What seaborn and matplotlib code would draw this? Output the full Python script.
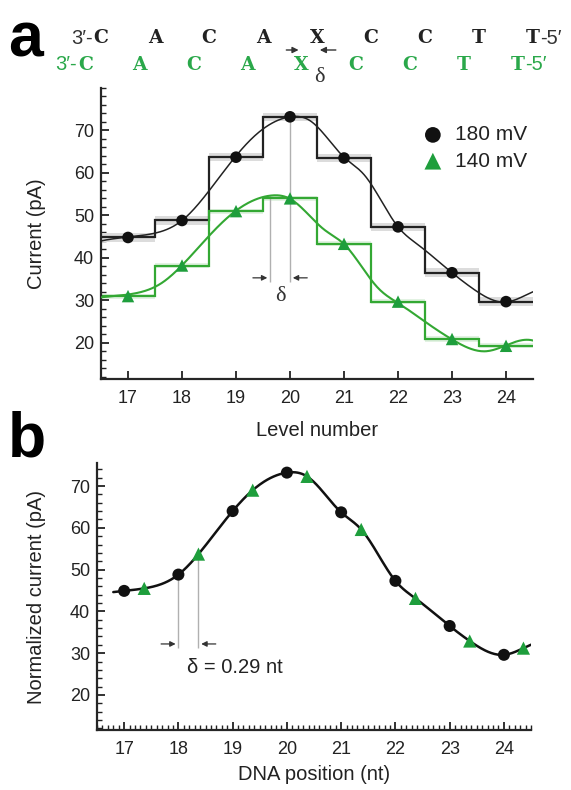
import numpy as np
import pandas as pd
import matplotlib
matplotlib.use("Agg")
import matplotlib.pyplot as plt
import matplotlib.transforms as mtrans
from matplotlib.ticker import MultipleLocator
import seaborn as sns

# ---------------- data ----------------
levels = [17, 18, 19, 20, 21, 22, 23, 24]
cur_180 = [44.8, 48.8, 63.7, 73.2, 63.5, 47.3, 36.5, 29.7]
cur_140 = [31.0, 38.2, 51.0, 54.0, 43.3, 29.7, 20.9, 19.3]

pos_180 = [17, 18, 19, 20, 21, 22, 23, 24]
norm_180 = [44.9, 48.8, 64.0, 73.2, 63.7, 47.3, 36.5, 29.6]
pos_140 = [17.37, 18.37, 19.37, 20.37, 21.37, 22.37, 23.37, 24.36]
norm_140 = [45.5, 53.7, 69.0, 72.3, 59.6, 43.1, 32.9, 31.2]

yticks = [20, 30, 40, 50, 60, 70]
seq_letters = ["C", "A", "C", "A", "X", "C", "C", "T", "T"]
delta_label = "δ = 0.29 nt"
legend_labels = ["180 mV", "140 mV"]

BLACK = "#111111"
GREEN_PT = "#1e9e3c"
GREEN_LN = "#33a833"
GREEN_TX = "#2aa84a"

# ---------------- helpers ----------------
def natural_spline(x, y, xq):
    x = np.asarray(x, float); y = np.asarray(y, float); xq = np.asarray(xq, float)
    n = len(x); h = np.diff(x)
    A = np.zeros((n, n)); r = np.zeros(n)
    A[0, 0] = 1; A[-1, -1] = 1
    for i in range(1, n - 1):
        A[i, i - 1] = h[i - 1]; A[i, i] = 2 * (h[i - 1] + h[i]); A[i, i + 1] = h[i]
        r[i] = 3 * ((y[i + 1] - y[i]) / h[i] - (y[i] - y[i - 1]) / h[i - 1])
    c = np.linalg.solve(A, r)
    b = (y[1:] - y[:-1]) / h - h * (2 * c[:-1] + c[1:]) / 3
    d = (c[1:] - c[:-1]) / (3 * h)
    idx = np.clip(np.searchsorted(x, xq) - 1, 0, n - 2)
    dx = xq - x[idx]
    return y[idx] + b[idx] * dx + c[idx] * dx ** 2 + d[idx] * dx ** 3

# combined fit through normalized points
px = np.array(pos_180 + pos_140); py = np.array(norm_180 + norm_140)
order = np.argsort(px); px, py = px[order], py[order]
shift = np.mean(np.array(pos_140) - np.array(pos_180))
m, c0 = np.polyfit(cur_140, norm_140, 1)

sns.set_theme(style="ticks")
plt.rcParams["font.family"] = ["Liberation Sans", "DejaVu Sans"]
plt.rcParams["axes.linewidth"] = 1.6

fig = plt.figure(figsize=(5.71, 7.9), dpi=100)
axa = fig.add_axes([0.1769, 0.5203, 0.7566, 0.3684])
axb = fig.add_axes([0.1699, 0.0759, 0.7601, 0.3380])

FS_T = 13
FS_L = 14.5

def style_axis(ax, xminor=None):
    sns.despine(ax=ax)
    ax.set_xlim(16.5, 24.5)
    ax.set_xticks(levels)
    ax.set_yticks(yticks)
    ax.yaxis.set_minor_locator(MultipleLocator(2))
    if xminor:
        ax.xaxis.set_minor_locator(MultipleLocator(xminor))
    ax.tick_params(which="major", direction="in", length=6, width=1.3, labelsize=FS_T, colors="#222222")
    ax.tick_params(axis="x", which="major", pad=8)
    ax.tick_params(axis="y", which="major", pad=5)
    ax.tick_params(which="minor", direction="in", length=3.5, width=1.0, color="#222222")

# ---------------- panel a ----------------
edges = np.append(np.array(levels) - 0.5, levels[-1] + 0.5)
v180 = np.array(cur_180); v140 = np.array(cur_140)
axa.stairs(v180 + 1.0, edges, baseline=v180 - 1.0, fill=True, color="#dcdcdc", zorder=1)
axa.stairs(v140 + 0.6, edges, baseline=v140 - 0.6, fill=True, color="#e2f2e2", zorder=1)
axa.stairs(v180, edges, baseline=None, color="#222222", lw=1.6, zorder=2)
axa.stairs(v140, edges, baseline=None, color=GREEN_LN, lw=1.6, zorder=2)

xa = np.linspace(16.5, 24.5, 400)
fit_a = pd.DataFrame({"x": xa, "y180": natural_spline(px, py, xa),
                      "y140": (natural_spline(px, py, xa + shift) - c0) / m})
sns.lineplot(data=fit_a, x="x", y="y180", ax=axa, color="#222222", lw=1.1, sort=False, zorder=3)
sns.lineplot(data=fit_a, x="x", y="y140", ax=axa, color=GREEN_LN, lw=1.5, sort=False, zorder=3)

pts_a = pd.DataFrame({"lev": levels, "c180": cur_180, "c140": cur_140})
sns.scatterplot(data=pts_a, x="lev", y="c180", ax=axa, color=BLACK, marker="o", s=70,
                edgecolor="none", zorder=5, label=legend_labels[0])
sns.scatterplot(data=pts_a, x="lev", y="c140", ax=axa, color=GREEN_PT, marker="^", s=80,
                edgecolor="none", zorder=5, label=legend_labels[1])

# delta annotation panel a
peak_x = 20 - shift
peak_g = (natural_spline(px, py, [20.0])[0] - c0) / m
axa.vlines([peak_x], 34.4, peak_g, color="#b0b0b0", lw=1.0, zorder=1)
axa.vlines([20], 34.4, cur_180[3], color="#b0b0b0", lw=1.0, zorder=1)
arr = dict(arrowstyle="-|>", color="#333333", lw=0.9, mutation_scale=8)
axa.annotate("", xy=(peak_x, 35.3), xytext=(peak_x - 0.37, 35.3), arrowprops=arr)
axa.annotate("", xy=(20, 35.3), xytext=(20.37, 35.3), arrowprops=arr)
axa.text((peak_x + 20) / 2, 30.8, "δ", ha="center", va="center", fontsize=16,
         family=["Liberation Serif", "DejaVu Serif"], color="#333333")

axa.set_ylim(11.5, 80)
style_axis(axa)
axa.set_xlabel("Level number", fontsize=FS_L, color="#222222")
axa.set_ylabel("Current (pA)", fontsize=FS_L, color="#222222")
axa.xaxis.set_label_coords(0.5, -0.145)
axa.yaxis.set_label_coords(-0.127, 0.5)
leg = axa.legend(loc="upper right", bbox_to_anchor=(1.005, 0.90), frameon=False, fontsize=15,
                 handletextpad=0.05, labelspacing=0.35, markerscale=1.35, borderaxespad=0)
for t in leg.get_texts():
    t.set_color("#222222")

# sequences above panel a
tr = mtrans.blended_transform_factory(axa.transData, fig.transFigure)
ybk, ygr = 1 - 38 / 790, 1 - 65 / 790
slab = ["DejaVu Serif", "Liberation Serif"]
for k, L in enumerate(seq_letters):
    axa.text(16.5 + k, ybk, L, transform=tr, ha="center", va="center", fontsize=13.5,
             family=slab, weight="bold", color="#222222", clip_on=False)
    axa.text(16.5 + k - 0.29, ygr, L, transform=tr, ha="center", va="center", fontsize=13.5,
             family=slab, weight="bold", color=GREEN_TX, clip_on=False)
axa.text(16.5 - 0.16, ybk, "3′-", transform=tr, ha="right", va="center", fontsize=14.5,
         color="#333333", clip_on=False)
axa.text(16.5 - 0.29 - 0.16, ygr, "3′-", transform=tr, ha="right", va="center", fontsize=14.5,
         color=GREEN_TX, clip_on=False)
axa.text(24.5 + 0.14, ybk, "-5′", transform=tr, ha="left", va="center", fontsize=14.5,
         color="#333333", clip_on=False)
axa.text(24.5 - 0.29 + 0.14, ygr, "-5′", transform=tr, ha="left", va="center", fontsize=14.5,
         color=GREEN_TX, clip_on=False)
yar = 1 - 50 / 790
arr2 = dict(arrowstyle="-|>", color="#333333", lw=1.0, mutation_scale=9)
axa.annotate("", xy=(20.5 - 0.29, yar), xytext=(19.88, yar), xycoords=tr, textcoords=tr,
             arrowprops=arr2)
axa.annotate("", xy=(20.5, yar), xytext=(20.9, yar), xycoords=tr, textcoords=tr,
             arrowprops=arr2)
axa.text(20.55, 1 - 77 / 790, "δ", transform=tr, ha="center", va="center", fontsize=16,
         family=["Liberation Serif", "DejaVu Serif"], color="#333333")

# ---------------- panel b ----------------
xb = np.linspace(16.8, 24.5, 400)
fit_b = pd.DataFrame({"x": xb, "y": natural_spline(px, py, xb)})
sns.lineplot(data=fit_b, x="x", y="y", ax=axb, color="#111111", lw=1.8, sort=False, zorder=3)
pb180 = pd.DataFrame({"x": pos_180, "y": norm_180})
pb140 = pd.DataFrame({"x": pos_140, "y": norm_140})
sns.scatterplot(data=pb180, x="x", y="y", ax=axb, color=BLACK, marker="o", s=75,
                edgecolor="none", zorder=5)
sns.scatterplot(data=pb140, x="x", y="y", ax=axb, color=GREEN_PT, marker="^", s=90,
                edgecolor="none", zorder=5)

axb.vlines([pos_180[1]], 31.2, norm_180[1], color="#b0b0b0", lw=1.0, zorder=1)
axb.vlines([pos_140[1]], 31.2, norm_140[1], color="#b0b0b0", lw=1.0, zorder=1)
axb.annotate("", xy=(pos_180[1], 32.2), xytext=(pos_180[1] - 0.37, 32.2), arrowprops=arr)
axb.annotate("", xy=(pos_140[1], 32.2), xytext=(pos_140[1] + 0.37, 32.2), arrowprops=arr)
axb.text(18.15, 26.5, delta_label, ha="left", va="center", fontsize=FS_L, color="#222222")

axb.set_ylim(11.6, 75.5)
style_axis(axb, xminor=0.1)
axb.set_xlabel("DNA position (nt)", fontsize=FS_L, color="#222222")
axb.set_ylabel("Normalized current (pA)", fontsize=FS_L, color="#222222")
axb.xaxis.set_label_coords(0.5, -0.13)
axb.yaxis.set_label_coords(-0.118, 0.5)

fig.text(0.014, 1 - 40 / 790, "a", fontsize=45, weight="bold", va="center", ha="left", color="black")
fig.text(0.014, 1 - 440 / 790, "b", fontsize=45, weight="bold", va="center", ha="left", color="black")

fig.savefig("out.png", dpi=100, facecolor="white")
